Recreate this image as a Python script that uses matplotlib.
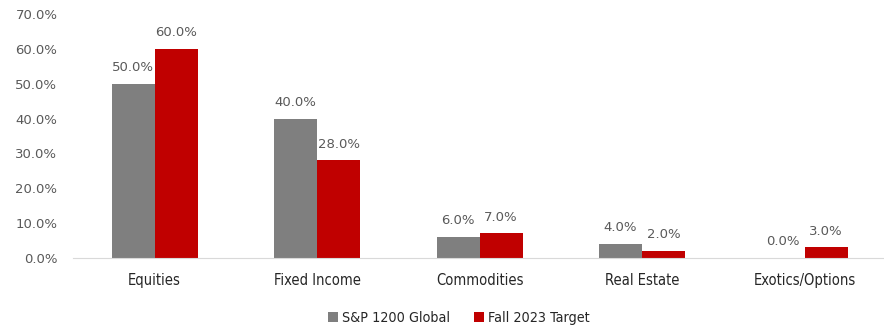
import numpy as np
import matplotlib.pyplot as plt
from matplotlib.ticker import PercentFormatter

categories = ["Equities", "Fixed Income", "Commodities", "Real Estate", "Exotics/Options"]
sp_global = [50.0, 40.0, 6.0, 4.0, 0.0]
fall_target = [60.0, 28.0, 7.0, 2.0, 3.0]
series_names = ["S&P 1200 Global", "Fall 2023 Target"]
colors = ["#7f7f7f", "#c00000"]

narrow = dict(family="DejaVu Sans", stretch="condensed")

fig = plt.figure(figsize=(8.84, 3.26), dpi=100)
ax = fig.add_axes([0.083, 0.209, 0.919, 0.748])

x = np.arange(len(categories))
w = 0.265
b1 = ax.bar(x - w / 2, sp_global, w, color=colors[0], label=series_names[0])
b2 = ax.bar(x + w / 2, fall_target, w, color=colors[1], label=series_names[1])

for bars in (b1, b2):
    for rect in bars:
        v = rect.get_height()
        ax.annotate(f"{v:.1f}%", (rect.get_x() + rect.get_width() / 2, v),
                    xytext=(0, 7), textcoords="offset points",
                    ha="center", va="bottom", fontsize=9.5, color="#595959")

ax.set_xlim(-0.5, len(categories) - 0.5)
ax.set_ylim(0, 70)
ax.set_yticks(np.arange(0, 71, 10))
ax.yaxis.set_major_formatter(PercentFormatter(decimals=1))
ax.tick_params(axis="y", length=0, labelsize=9.5, labelcolor="#595959", pad=11.5)
ax.set_xticks(x)
ax.set_xticklabels(categories, fontsize=10.5, color="#262626", **narrow)
ax.tick_params(axis="x", length=0, pad=11)

for s in ["top", "right", "left"]:
    ax.spines[s].set_visible(False)
ax.spines["bottom"].set_color("#d9d9d9")

leg = fig.legend(loc="lower center", bbox_to_anchor=(0.519, -0.037), ncol=2, frameon=False,
                 prop=dict(size=10.3, **narrow),
                 handlelength=0.7, handleheight=0.7, handletextpad=0.25, columnspacing=1.7)
for t in leg.get_texts():
    t.set_color("#262626")

fig.savefig("out.png", dpi=100)
